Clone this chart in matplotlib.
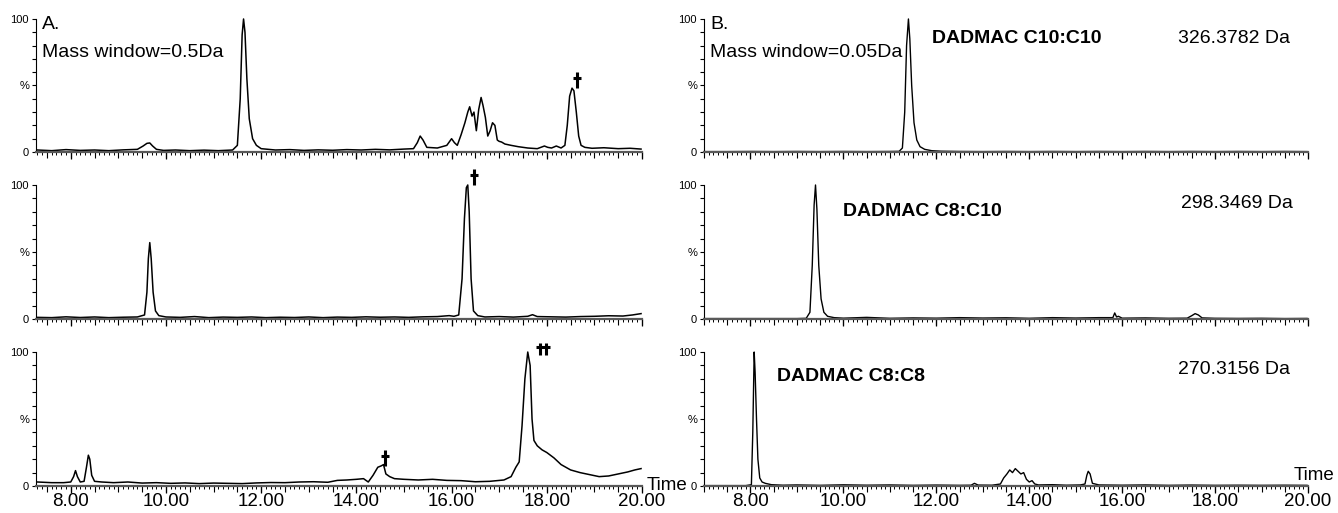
# -*- coding: utf-8 -*-

import matplotlib
matplotlib.use('Agg')
import matplotlib.pyplot as plt
from matplotlib.path import Path
from matplotlib.ticker import MultipleLocator, FormatStrFormatter

outFilePath = "out.png"

plt.rcParams['font.family'] = ['Liberation Sans', 'DejaVu Sans']

# ---- panel A (mass window 0.5 Da), retention time (min) / relative intensity (%)
timeA1 = [7.30, 7.60, 7.90, 8.20, 8.50, 8.80, 9.10, 9.40, 9.52, 9.60, 9.66, 9.72, 9.80,
          9.95, 10.20, 10.50, 10.80, 11.10, 11.40, 11.50, 11.56, 11.60, 11.63, 11.66,
          11.70, 11.75, 11.82, 11.90, 12.00, 12.30, 12.60, 12.90, 13.20, 13.50, 13.80,
          14.10, 14.40, 14.70, 15.00, 15.20, 15.28, 15.34, 15.40, 15.48, 15.70, 15.90,
          16.00, 16.06, 16.12, 16.20, 16.28, 16.34, 16.38, 16.43, 16.47, 16.52, 16.57,
          16.62, 16.66, 16.71, 16.76, 16.81, 16.86, 16.91, 16.96, 17.00, 17.05, 17.12,
          17.25, 17.40, 17.60, 17.80, 17.95, 18.02, 18.10, 18.20, 18.30, 18.38, 18.43,
          18.48, 18.53, 18.57, 18.62, 18.67, 18.72, 18.80, 18.95, 19.20, 19.50, 19.75, 19.98]
intA1 = [1.5, 1.0, 1.8, 1.2, 1.5, 1.0, 1.6, 2.0, 4.5, 6.5, 6.8, 4.5, 2.0,
         1.2, 1.5, 1.0, 1.4, 1.0, 1.5, 5.0, 40, 88, 100, 90,
         55, 25, 10, 5, 2.5, 1.5, 1.8, 1.2, 1.6, 1.3, 1.8,
         1.5, 2.0, 1.6, 2.2, 2.5, 7, 12, 9, 3.5, 3, 5,
         10, 7, 5, 13, 22, 30, 34, 27, 30, 16, 32,
         41, 35, 26, 12, 16, 22, 20, 9, 8, 7.5, 6,
         5, 4, 3, 2.5, 4.5, 3.5, 3.0, 4.5, 3.0, 5.0, 20,
         42, 48, 46, 30, 12, 5, 3.5, 2.8, 3.2, 2.5, 2.8, 2.2]

timeA2 = [7.30, 7.60, 7.90, 8.20, 8.50, 8.80, 9.10, 9.40, 9.55, 9.60, 9.63, 9.66, 9.69,
          9.73, 9.78, 9.85, 10.00, 10.30, 10.60, 10.90, 11.20, 11.50, 11.80, 12.10,
          12.40, 12.70, 13.00, 13.30, 13.60, 13.90, 14.20, 14.50, 14.80, 15.10, 15.40,
          15.70, 15.95, 16.05, 16.15, 16.22, 16.27, 16.31, 16.34, 16.37, 16.41, 16.46,
          16.55, 16.70, 17.00, 17.30, 17.60, 17.70, 17.80, 18.10, 18.40, 18.70, 19.00,
          19.30, 19.60, 19.80, 19.98]
intA2 = [1.2, 1.0, 1.6, 1.1, 1.5, 1.0, 1.3, 1.5, 3, 20, 45, 57, 45,
         20, 6, 2.5, 1.5, 1.2, 1.8, 1.0, 1.4, 1.2, 1.5, 1.0,
         1.3, 1.1, 1.5, 1.0, 1.4, 1.2, 1.6, 1.3, 1.5, 1.2, 1.6,
         1.8, 2.5, 2.0, 3.0, 30, 75, 98, 100, 80, 30, 6,
         2.5, 1.5, 1.8, 1.4, 2.0, 3.2, 1.8, 1.6, 1.4, 1.8, 2.0,
         2.4, 2.2, 3.0, 4.0]

timeA3 = [7.30, 7.60, 7.85, 8.00, 8.06, 8.10, 8.14, 8.20, 8.28, 8.33, 8.37, 8.40, 8.44,
          8.50, 8.65, 8.90, 9.20, 9.50, 9.80, 10.10, 10.40, 10.70, 11.00, 11.30, 11.60,
          11.90, 12.20, 12.50, 12.80, 13.10, 13.40, 13.60, 13.80, 14.00, 14.15, 14.25,
          14.35, 14.45, 14.52, 14.57, 14.62, 14.70, 14.80, 15.00, 15.30, 15.60, 15.90,
          16.20, 16.50, 16.80, 17.10, 17.25, 17.35, 17.42, 17.48, 17.54, 17.60, 17.65,
          17.69, 17.73, 17.80, 17.90, 18.00, 18.15, 18.30, 18.50, 18.70, 18.90, 19.10,
          19.30, 19.50, 19.70, 19.85, 19.98]
intA3 = [3, 2.5, 2.5, 3, 7, 11.5, 7, 3, 3.5, 14, 23, 20, 8,
         3.5, 3, 2.5, 3, 2.2, 2.5, 2, 2.3, 1.8, 2.2, 2, 1.8,
         2.3, 2.6, 2.5, 3, 3.2, 2.8, 4.2, 4.5, 5, 5.5, 3,
         8, 14, 15, 16, 9, 7, 5.5, 5, 4.5, 5, 4.2,
         4, 3.2, 3.5, 4.5, 7, 14, 18, 45, 80, 100, 90,
         50, 34, 30, 27, 25, 21, 16, 12, 10, 8.5, 7,
         7.5, 9, 10.5, 12, 13]

# ---- panel B (mass window 0.05 Da)
timeB1 = [7.00, 7.50, 8.00, 8.50, 9.00, 9.50, 10.00, 10.50, 11.00, 11.20, 11.27, 11.32,
          11.36, 11.40, 11.43, 11.47, 11.52, 11.58, 11.65, 11.75, 11.90, 12.10, 12.50,
          13.00, 13.50, 14.00, 14.50, 15.00, 15.50, 16.00, 16.50, 17.00, 17.50, 18.00,
          18.50, 19.00, 19.50, 19.98]
intB1 = [0.3, 0.3, 0.4, 0.3, 0.4, 0.3, 0.4, 0.3, 0.4, 0.5, 3, 30,
         80, 100, 85, 50, 22, 9, 4, 2, 1, 0.6, 0.4,
         0.3, 0.4, 0.3, 0.4, 0.3, 0.4, 0.3, 0.4, 0.3, 0.4, 0.3,
         0.4, 0.3, 0.4, 0.3]

timeB2 = [7.00, 7.50, 8.00, 8.50, 9.00, 9.20, 9.28, 9.33, 9.37, 9.40, 9.43, 9.47, 9.52,
          9.58, 9.66, 9.80, 10.00, 10.50, 11.00, 11.50, 12.00, 12.50, 13.00, 13.50,
          14.00, 14.50, 15.00, 15.50, 15.80, 15.84, 15.88, 15.92, 16.00, 16.50, 17.00,
          17.40, 17.50, 17.57, 17.64, 17.72, 18.00, 18.50, 19.00, 19.50, 19.98]
intB2 = [0.3, 0.3, 0.3, 0.3, 0.3, 0.5, 5, 40, 85, 100, 82, 40, 15,
         5, 2, 1, 0.6, 1.2, 0.5, 0.8, 0.6, 1.0, 0.7, 0.9,
         0.5, 1.0, 0.7, 1.0, 1.0, 4.5, 1.5, 2, 0.6, 0.8, 0.5,
         0.6, 2.5, 4, 3, 0.8, 0.5, 0.4, 0.5, 0.3, 0.4]

timeB3 = [7.00, 7.50, 7.90, 8.02, 8.05, 8.08, 8.10, 8.13, 8.16, 8.20, 8.25, 8.32, 8.45,
          8.70, 9.00, 9.50, 10.00, 10.50, 11.00, 11.50, 12.00, 12.50, 12.75, 12.82,
          12.90, 13.20, 13.38, 13.45, 13.52, 13.58, 13.64, 13.70, 13.76, 13.82, 13.88,
          13.94, 14.00, 14.06, 14.12, 14.20, 14.50, 14.80, 15.10, 15.20, 15.24, 15.27,
          15.31, 15.36, 15.50, 16.00, 16.50, 17.00, 17.50, 18.00, 18.50, 19.00, 19.50, 19.98]
intB3 = [0.3, 0.3, 0.3, 1, 40, 100, 85, 50, 20, 6, 3, 2, 1,
         0.6, 0.8, 0.5, 0.9, 0.6, 0.8, 0.5, 0.7, 0.5, 0.6, 2,
         0.7, 0.6, 1.5, 6, 9, 12, 10, 13, 11, 9, 10,
         5, 3, 4, 1.5, 0.8, 1, 0.6, 0.8, 1.5, 8, 11,
         9, 2, 0.8, 0.6, 0.8, 0.5, 0.7, 0.5, 0.6, 0.5, 0.6, 0.5]

# peak marks (time, %)
singleMarkA1 = ([18.64], [54])
singleMarkA2 = ([16.48], [106])
singleMarkA3 = ([14.60], [21])
doubleMarkA3 = ([17.93], [102])

compoundNames = ["DADMAC C10:C10", "DADMAC C8:C10", "DADMAC C8:C8"]
compoundMasses = ["326.3782 Da", "298.3469 Da", "270.3156 Da"]

daggerPath = Path([(0, -1), (0, 1), (-0.55, 0.3), (0.55, 0.3)],
                  [Path.MOVETO, Path.LINETO, Path.MOVETO, Path.LINETO])
doubleDaggerPath = Path([(-0.42, -0.85), (-0.42, 0.85), (0.42, -0.85), (0.42, 0.85),
                         (-1, 0.25), (1, 0.25)],
                        [Path.MOVETO, Path.LINETO, Path.MOVETO, Path.LINETO,
                         Path.MOVETO, Path.LINETO])


def style_axis(ax, xlim, bottom_row):
    ax.set_xlim(xlim)
    ax.set_ylim(0, 100)
    for s in ['top', 'right']:
        ax.spines[s].set_visible(False)
    ax.spines['left'].set_linewidth(0.8)
    ax.spines['bottom'].set_linewidth(1.6)
    ax.spines['bottom'].set_color('0.35')
    ax.set_yticks([0, 50, 100])
    ax.set_yticklabels(['0', '%', '100'])
    ax.yaxis.set_minor_locator(MultipleLocator(10))
    ax.tick_params(axis='y', which='both', length=3, width=0.8, labelsize=8, pad=2)
    ax.xaxis.set_major_locator(MultipleLocator(2))
    ax.xaxis.set_minor_locator(MultipleLocator(0.1))
    ax.xaxis.set_major_formatter(FormatStrFormatter('%.2f'))
    ax.tick_params(axis='x', which='major', length=5, width=0.9, labelsize=13.5, pad=0,
                   labelbottom=bottom_row)
    ax.tick_params(axis='x', which='minor', length=2.5, width=0.7)
    sec = ax.secondary_xaxis('bottom')
    sec.xaxis.set_major_locator(MultipleLocator(0.5))
    sec.tick_params(axis='x', length=4, width=0.8, labelbottom=False)
    sec.spines['bottom'].set_visible(False)


def plot():
    fig = plt.figure(figsize=(13.38, 5.13), dpi=100)
    rows = [(0.7037, 0.2593), (0.3782, 0.2612), (0.0526, 0.2612)]
    leftX, leftW = 36 / 1338.0, 606 / 1338.0
    rightX, rightW = 704 / 1338.0, 604 / 1338.0

    tracesA = [(timeA1, intA1), (timeA2, intA2), (timeA3, intA3)]
    tracesB = [(timeB1, intB1), (timeB2, intB2), (timeB3, intB3)]
    namePos = [(0.3775, 0.85), (0.230, 0.80), (0.121, 0.815)]
    massPos = [(0.785, 0.85), (0.790, 0.864), (0.785, 0.873)]

    axesA = []
    for i, (b, h) in enumerate(rows):
        ax = fig.add_axes([leftX, b, leftW, h])
        style_axis(ax, (7.27, 20.0), i == 2)
        ax.plot(tracesA[i][0], tracesA[i][1], color='k', lw=1.1, clip_on=False)
        axesA.append(ax)

        axb = fig.add_axes([rightX, b, rightW, h])
        style_axis(axb, (7.0, 20.0), i == 2)
        axb.plot(tracesB[i][0], tracesB[i][1], color='k', lw=1.0, clip_on=False)
        axb.text(namePos[i][0], namePos[i][1], compoundNames[i], transform=axb.transAxes,
                 fontsize=14, fontweight='bold', va='center', ha='left')
        axb.text(massPos[i][0], massPos[i][1], compoundMasses[i], transform=axb.transAxes,
                 fontsize=14, va='center', ha='left')
        if i == 0:
            axb.text(0.01, 0.955, "B.", transform=axb.transAxes, fontsize=14, va='center')
            axb.text(0.01, 0.75, "Mass window=0.05Da", transform=axb.transAxes,
                     fontsize=14, va='center')

    axesA[0].text(0.01, 0.955, "A.", transform=axesA[0].transAxes, fontsize=14, va='center')
    axesA[0].text(0.01, 0.75, "Mass window=0.5Da", transform=axesA[0].transAxes,
                  fontsize=14, va='center')

    mk = dict(color='k', linestyle='none', mfc='none', mew=2.2, clip_on=False)
    axesA[0].plot(singleMarkA1[0], singleMarkA1[1], marker=daggerPath, ms=11, **mk)
    axesA[1].plot(singleMarkA2[0], singleMarkA2[1], marker=daggerPath, ms=11, **mk)
    axesA[2].plot(singleMarkA3[0], singleMarkA3[1], marker=daggerPath, ms=11, **mk)
    axesA[2].plot(doubleMarkA3[0], doubleMarkA3[1], marker=doubleDaggerPath, ms=10.5, **mk)

    fig.text(647 / 1338.0, 1 - 486 / 513.0, "Time", fontsize=13.5, va='center', ha='left')
    fig.text(1294 / 1338.0, 1 - 476 / 513.0, "Time", fontsize=13.5, va='center', ha='left')

    fig.savefig(outFilePath, dpi=100)


if __name__ == "__main__":
    plot()
